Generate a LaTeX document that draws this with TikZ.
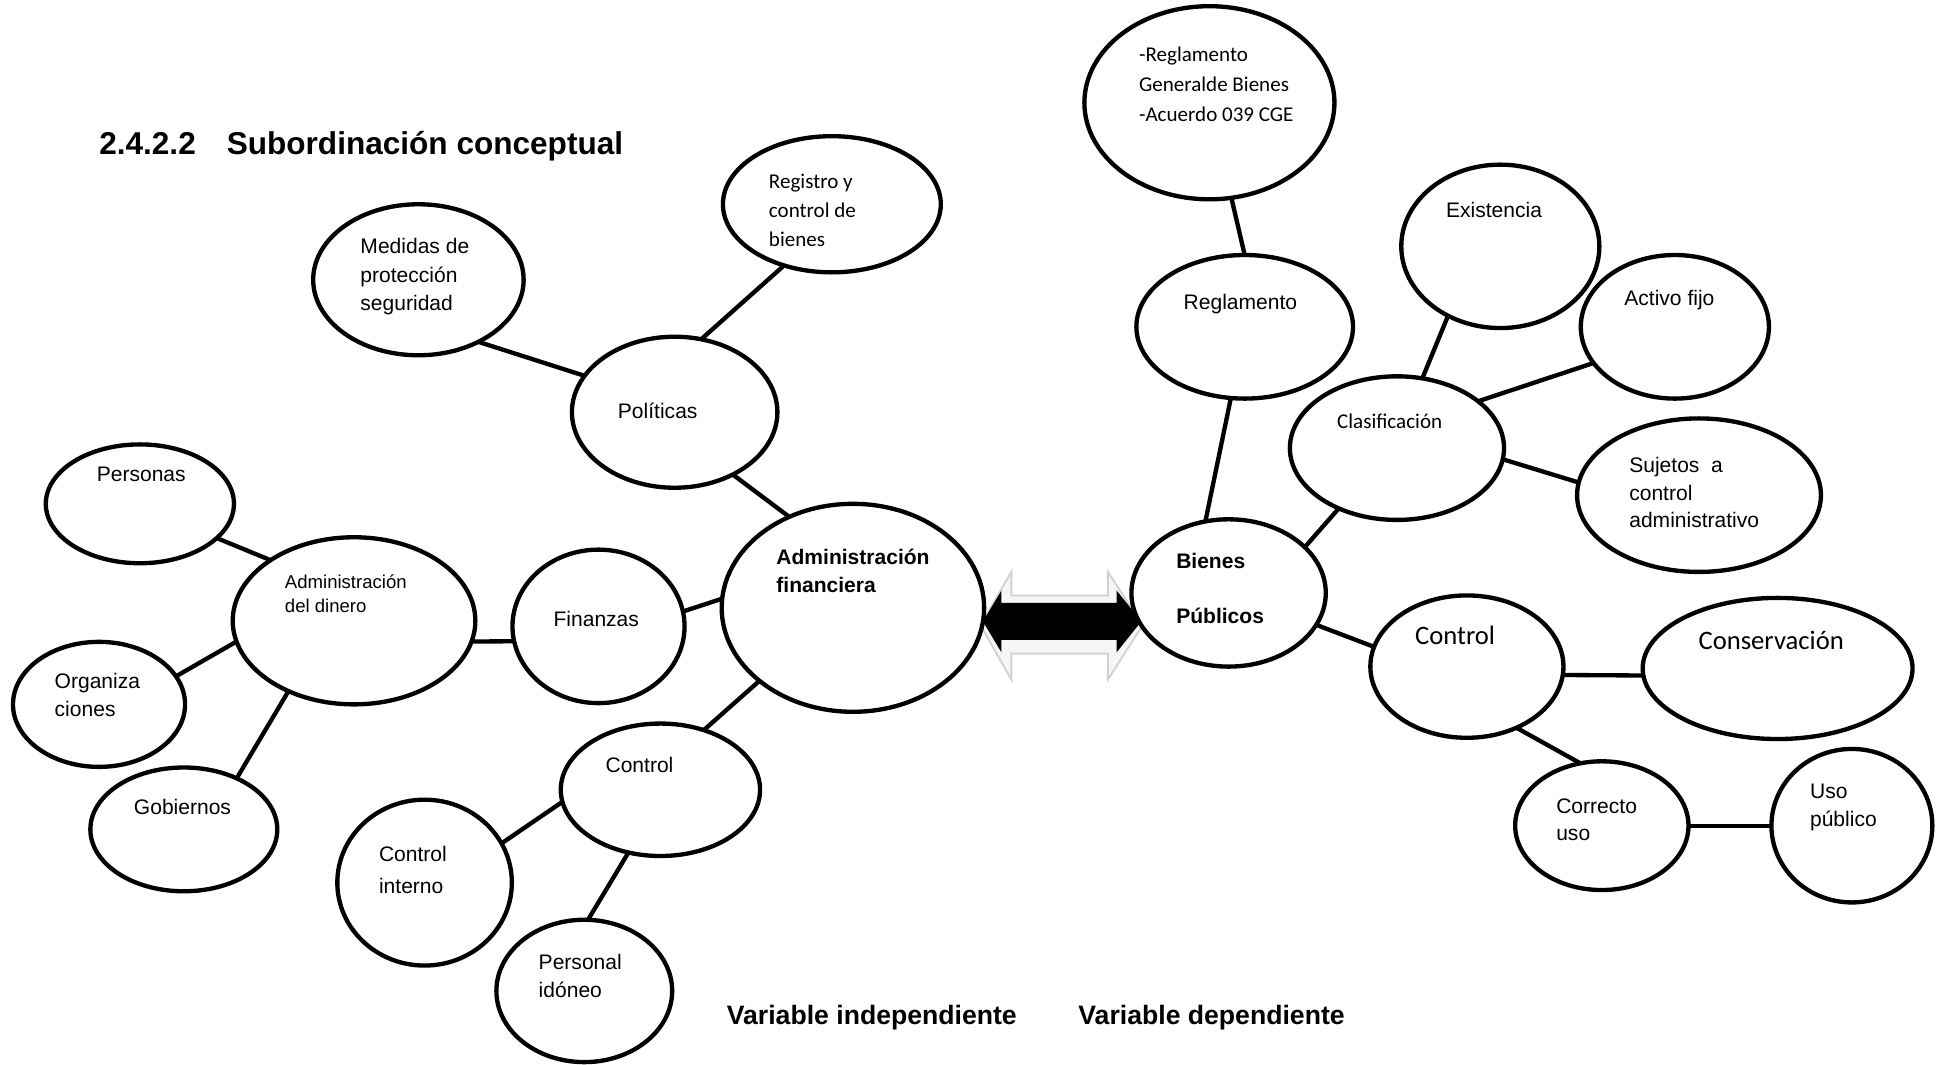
\documentclass[tikz,border=0pt]{standalone}
\usepackage{fontspec}
\setmainfont{Liberation Sans}
\newfontfamily\calib{Carlito}
\usetikzlibrary{shapes.geometric}
\begin{document}
\begin{tikzpicture}[x=1pt,y=-1pt,
  ell/.style={draw, ellipse, line width=3.5pt, inner sep=0pt, outer sep=0pt},
  lnk/.style={line width=3.5pt},
  txt/.style={anchor=base west, inner sep=0pt, align=left, font=\fontsize{17}{23}\selectfont},
  ctxt/.style={anchor=base west, inner sep=0pt, align=left, font=\calib\fontsize{17}{23.5}\selectfont},
  btxt/.style={anchor=base west, inner sep=0pt, align=left, font=\bfseries\fontsize{17}{23}\selectfont},
]
\useasboundingbox (0,0) rectangle (1568,860);
% double arrow
\draw[fill=gray!7, draw=gray!35, line width=1.5pt] (792,505) -- (817,462) -- (817,481) -- (895,481) -- (895,462) -- (923,505) -- (895,549) -- (895,528) -- (817,528) -- (817,549) -- cycle;
\fill[black] (794,502) -- (809,477) -- (809,487) -- (902,487) -- (902,477) -- (922,502) -- (902,527) -- (902,517) -- (809,517) -- (809,527) -- cycle;
% ellipses
\node[ell, minimum width=202pt, minimum height=156pt] (rg) at (977,83) {};
\node[ell, minimum width=176pt, minimum height=110pt] (reg) at (672,165) {};
\node[ell, minimum width=170pt, minimum height=122pt] (med) at (338,226) {};
\node[ell, minimum width=166pt, minimum height=122pt] (pol) at (545,333) {};
\node[ell, minimum width=175pt, minimum height=116pt] (regl) at (1005.5,264) {};
\node[ell, minimum width=160pt, minimum height=132pt] (exi) at (1212,199) {};
\node[ell, minimum width=152pt, minimum height=116pt] (act) at (1353,264) {};
\node[ell, minimum width=173pt, minimum height=116pt] (cla) at (1128.5,362) {};
\node[ell, minimum width=197pt, minimum height=124pt] (suj) at (1372.5,400) {};
\node[ell, minimum width=152pt, minimum height=96pt] (per) at (113,407) {};
\node[ell, minimum width=196pt, minimum height=135pt] (add) at (286,501.5) {};
\node[ell, minimum width=139pt, minimum height=124pt] (fin) at (483.5,506) {};
\node[ell, minimum width=212pt, minimum height=168pt] (adf) at (689,491) {};
\node[ell, minimum width=157pt, minimum height=119pt] (bie) at (992.5,479) {};
\node[ell, minimum width=156pt, minimum height=115pt] (conr) at (1185,538.5) {};
\node[ell, minimum width=218pt, minimum height=114pt] (cons) at (1436,540) {};
\node[ell, minimum width=139pt, minimum height=101pt] (org) at (80,569) {};
\node[ell, minimum width=151pt, minimum height=100pt] (gob) at (148.5,670) {};
\node[ell, minimum width=161pt, minimum height=107pt] (conl) at (533.5,638) {};
\node[ell, minimum width=141pt, minimum height=134pt] (ci) at (343,713) {};
\node[ell, minimum width=142pt, minimum height=115pt] (pi) at (472,800.5) {};
\node[ell, minimum width=140pt, minimum height=104pt] (cor) at (1294,667) {};
\node[ell, minimum width=130pt, minimum height=124pt] (uso) at (1496,667) {};
% connectors
\draw[lnk] (med.-46) -- (pol.158);
\draw[lnk] (reg.-128) -- (pol.70);
\draw[lnk] (pol.-47) -- (adf.125);
\draw[lnk] (per.-24) -- (add.144);
\draw[lnk] (org.20) -- (add.190);
\draw[lnk] (gob.44) -- (add.-133);
\draw[lnk] (add.-10) -- (fin.190);
\draw[lnk] (fin.10) -- (adf.176);
\draw[lnk] (adf.-142) -- (conl.54);
\draw[lnk] (conl.187) -- (ci.27);
\draw[lnk] (conl.-117) -- (pi.87);
\draw[lnk] (rg.-77) -- (regl.90);
\draw[lnk] (regl.-101) -- (bie.108);
\draw[lnk] (cla.-134) -- (bie.31);
\draw[lnk] (cla.70) -- (exi.-127);
\draw[lnk] (cla.30) -- (act.-156);
\draw[lnk] (cla.-6) -- (suj.174);
\draw[lnk] (bie.-20) -- (conr.168);
\draw[lnk] (conr.-5) -- (cons.183);
\draw[lnk] (conr.-51) -- (cor.109);
\draw[lnk] (cor.0) -- (uso.180);
% texts (anchor = baseline of the last line)
\node[ctxt, font=\calib\fontsize{17}{24}\selectfont] (trg) at (920,98) {-Reglamento\\Generalde Bienes\\-Acuerdo 039 CGE};
\node[ctxt] (treg) at (621,199) {Registro y\\control de\\bienes};
\node[txt] (tmed) at (291,251) {Medidas de\\protección\\seguridad};
\node[txt] (tpol) at (499,338) {Políticas};
\node[txt] (tregl) at (956,250) {Reglamento};
\node[txt] (texi) at (1168,176) {Existencia};
\node[txt] (tact) at (1312,247) {Activo fijo};
\node[ctxt] (tcla) at (1080,346) {Clasificación};
\node[txt, font=\fontsize{17}{22}\selectfont] (tsuj) at (1316,426) {Sujetos\ \ a\\control\\administrativo};
\node[txt] (tper) at (78,389) {Personas};
\node[txt, font=\fontsize{15}{20}\selectfont] (tadd) at (230,495) {Administración\\del dinero};
\node[txt] (tfin) at (447,506) {Finanzas};
\node[btxt] (tadf) at (627,479) {Administración\\financiera};
\node[btxt, font=\bfseries\fontsize{17}{45}\selectfont] (tbie) at (950,504) {Bienes\\Públicos};
\node[ctxt, font=\calib\fontsize{21.5}{26}\selectfont] (tconr) at (1143,521) {Control};
\node[ctxt, font=\calib\fontsize{21.5}{26}\selectfont] (tcons) at (1372,525) {Conservación};
\node[txt] (torg) at (44,579) {Organiza\\ciones};
\node[txt] (tgob) at (108,658) {Gobiernos};
\node[txt] (tconl) at (489,624) {Control};
\node[txt, font=\fontsize{17}{26}\selectfont] (tci) at (306,722) {Control\\interno};
\node[txt] (tpi) at (435,806) {Personal\\idóneo};
\node[txt, font=\fontsize{17}{22}\selectfont] (tcor) at (1257,679) {Correcto\\uso};
\node[txt] (tuso) at (1462,668) {Uso\\público};
\node[btxt, font=\bfseries\fontsize{25.5}{30}\selectfont] (tnum) at (80,125) {2.4.2.2};
\node[btxt, font=\bfseries\fontsize{25.5}{30}\selectfont] (ttit) at (183,125) {Subordinación conceptual};
\node[btxt, font=\bfseries\fontsize{21.5}{26}\selectfont] (tvi) at (587,828) {Variable independiente};
\node[btxt, font=\bfseries\fontsize{21.5}{26}\selectfont] (tvd) at (871,828) {Variable dependiente};
\end{tikzpicture}
\end{document}
